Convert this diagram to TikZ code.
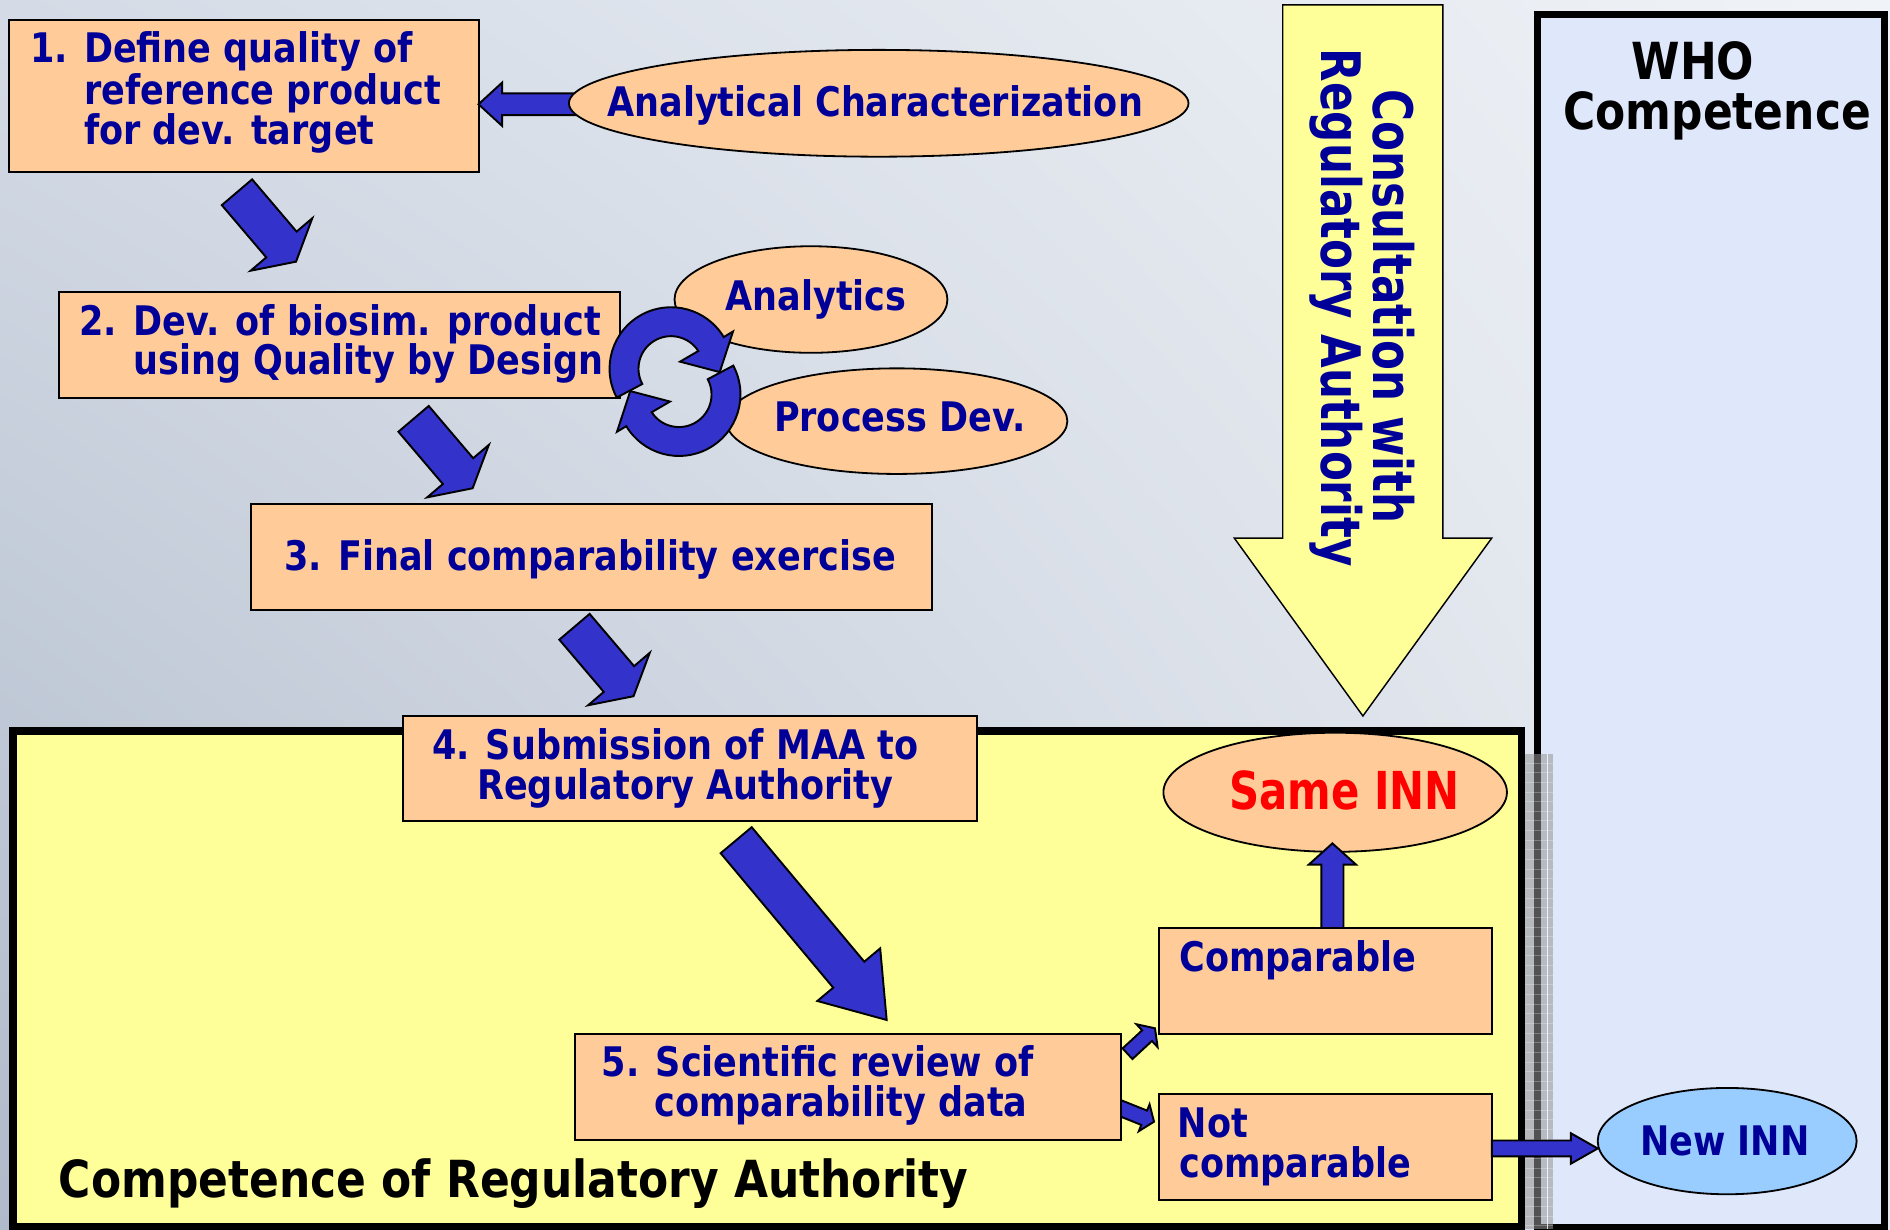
\documentclass[tikz,border=0pt]{standalone}
\usepackage{fontspec}
\newfontfamily\mainbold[FakeStretch=0.86]{DejaVu Sans Bold}
\newfontfamily\narrowbold[FakeStretch=0.80]{DejaVu Sans Bold}
\usetikzlibrary{shapes.geometric,fit,calc,shadings}
\definecolor{peach}{RGB}{255,204,153}
\definecolor{lemon}{RGB}{255,255,153}
\definecolor{navytxt}{RGB}{0,0,153}
\definecolor{arrowblue}{RGB}{51,51,204}
\definecolor{lavender}{RGB}{223,231,251}
\definecolor{skyblue}{RGB}{153,204,255}
\definecolor{bgUL}{RGB}{212,219,230}
\definecolor{bgUR}{RGB}{240,243,247}
\definecolor{bgLL}{RGB}{176,186,202}
\definecolor{bgLR}{RGB}{230,234,241}
\definecolor{bandgrey}{RGB}{150,150,150}
\newcommand\blockarrow[5]{%
  \coordinate (#1hb) at ($(#2)!#5!(#1)$);
  \draw[barrowsty] ($(#1)!#3!90:(#2)$) -- ($(#1hb)!#3!90:(#2)$) -- ($(#1hb)!#4!90:(#2)$) -- (#2)
     -- ($(#1hb)!#4!-90:(#2)$) -- ($(#1hb)!#3!-90:(#2)$) -- ($(#1)!#3!-90:(#2)$) -- cycle;}
\tikzset{
  pbox/.style={draw=black, line width=0.85pt, fill=peach, inner sep=0pt, outer sep=0pt},
  pell/.style={ellipse, draw=black, line width=0.75pt, fill=peach, inner sep=0pt, outer sep=0pt},
  barrowsty/.style={draw=black, line width=0.8pt, fill=arrowblue, line join=miter},
  txt/.style={text=navytxt, font=\mainbold\fontsize{16.9}{20}\selectfont, inner sep=0pt, anchor=base west},
  ctxt/.style={txt, anchor=base},
  bigtxt/.style={text=black, font=\mainbold\fontsize{21.2}{25}\selectfont, inner sep=0pt},
  vtxt/.style={text=navytxt, font=\narrowbold\fontsize{22.6}{26}\selectfont, inner sep=0pt, rotate=-90, anchor=base},
}
\begin{document}
\begin{tikzpicture}[x=0.5pt,y=-0.5pt]
\useasboundingbox (0,0) rectangle (1568,1020);
% background
\shade[upper left=bgUL, upper right=bgUR, lower left=bgLL, lower right=bgLR] (0,0) rectangle (1568,1020);

% competence regions
\node[draw=black, line width=3pt, fill=lemon, inner sep=0pt, fit={(10.8,606.5) (1262.5,1017.5)}] (ra) {};
\node[draw=black, line width=2.9pt, fill=lavender, inner sep=0pt, fit={(1275.8,12) (1563.3,1018)}] (who) {};
\fill[bandgrey, opacity=0.55] (1265.5,625.5) rectangle (1288,1020);
\foreach \yy in {633,641,...,1020} \draw[white, opacity=0.25, line width=0.3pt] (1265.5,\yy) -- (1288,\yy);
\draw[white, opacity=0.8, line width=0.5pt] (1284,625.5) -- (1284,1020);

% consultation arrow
\draw[draw=black, line width=0.6pt, fill=lemon] (1064.2,4) -- (1197.1,4) -- (1197.1,446.4) -- (1237.6,446.4)
   -- (1130.7,594) -- (1024,446.4) -- (1064.2,446.4) -- cycle;
\node[vtxt] (cons1) at (1139.8,254.4) {Consultation with};
\node[vtxt] (cons2) at (1096,255.3) {Regulatory Authority};

% step 1 and analytical characterization
\coordinate (a0s) at (490,86.5);
\node[pbox, fit={(7.4,16.6) (397,142.4)}] (b1) {};
\coordinate (a0e) at (b1.east |- a0s);
\blockarrow{a0s}{a0e}{4.5pt}{9pt}{9.8pt}
\node[pell, minimum width=257pt, minimum height=44.3pt] (ac) at (729,85.7) {};
\node[ctxt] (tac) at (726,97) {Analytical Characterization};
\node[txt] (t1a) at (24.6,52) {1. Define quality of};
\node[txt] (t1b) at (24.6,86.3) {\hphantom{1. }reference product};
\node[txt] (t1c) at (24.6,119.5) {\hphantom{1. }for dev. target};

% arrow 1 -> 2
\coordinate (a1s) at (196.6,159.5);
\coordinate (a1e) at (245.6,217.1);
\blockarrow{a1s}{a1e}{8.25pt}{16.8pt}{9.35pt}

% analytics / process dev
\node[pell, minimum width=113.2pt, minimum height=44.2pt] (an) at (672.8,248.5) {};
\node[pell, minimum width=141.5pt, minimum height=43.8pt] (pd) at (744,349.4) {};
\node[ctxt] (tan) at (677,257.3) {Analytics};
\node[ctxt] (tpd) at (746.5,358) {Process Dev.};

% step 2
\node[pbox, fit={(49.3,242.5) (514,330.5)}] (b2) {};
\node[txt] (t2a) at (65.5,278) {2. Dev. of biosim. product};
\node[txt] (t2b) at (65.5,311) {\hphantom{2. }using Quality by Design};

% circular arrows
\begin{scope}[shift={(560,316.6)}, x=0.5pt, y=0.5pt]
  \foreach \rr in {0,180}{
    \begin{scope}[rotate=\rr, shift={(-3.3,10.7)}]
      \draw[barrowsty] (208:51) arc[start angle=208, end angle=31, radius=51] -- (31:60) -- (-4:40.5)
        -- (38:9.5) -- (33:27) arc[start angle=33, end angle=208, radius=27] -- cycle;
    \end{scope}}
\end{scope}

% arrow 2 -> 3
\coordinate (a2s) at (343.1,347.5);
\coordinate (a2e) at (392.1,405.1);
\blockarrow{a2s}{a2e}{8.25pt}{16.8pt}{9.35pt}

% step 3
\node[pbox, fit={(208,418.2) (773,505.9)}] (b3) {};
\node[txt] (t3) at (235.5,473) {3. Final comparability exercise};

% arrow 3 -> 4
\coordinate (a3s) at (476.6,520);
\coordinate (a3e) at (525.6,577.6);
\blockarrow{a3s}{a3e}{8.25pt}{16.8pt}{9.35pt}

% step 4
\node[pbox, fit={(334.5,593.9) (810.6,681.5)}] (b4) {};
\node[txt] (t4a) at (358,629.7) {4. Submission of MAA to};
\node[txt] (t4b) at (395.5,663.3) {Regulatory Authority};

% arrow 4 -> 5
\coordinate (a4s) at (610.75,697.05);
\coordinate (a4e) at (735.6,846.2);
\blockarrow{a4s}{a4e}{8.4pt}{17pt}{24.5pt}

% small arrows from step 5
\coordinate (a5s) at (935.4,874.2);
\coordinate (a5e) at (958.2,853.1);
\blockarrow{a5s}{a5e}{3pt}{6.45pt}{4.5pt}
\coordinate (a6s) at (922,916.4);
\coordinate (a6e) at (957.4,930.6);
\blockarrow{a6s}{a6e}{3.2pt}{6pt}{4.4pt}

% step 5
\node[pbox, fit={(477.3,857.8) (929.9,946)}] (b5) {};
\node[txt] (t5a) at (499,892.8) {5. Scientific review of};
\node[txt] (t5b) at (542.5,926.4) {comparability data};

% outcomes
\node[pbox, fit={(961.5,769.9) (1237.7,857.8)}] (cmp) {};
\node[pbox, fit={(961.5,907.6) (1237.7,995.8)}] (ncmp) {};
\node[txt] (tcmp) at (978,806) {Comparable};
\node[txt] (tn1) at (976.8,944) {Not};
\node[txt] (tn2) at (978,976.8) {comparable};

\node[pell, minimum width=142.5pt, minimum height=49.4pt] (same) at (1107.7,657.3) {};
\node[text=red, font=\narrowbold\fontsize{21.7}{25}\selectfont, inner sep=0pt, anchor=base] (tsame) at (1115.5,671.7) {Same INN};
\coordinate (a7e) at (1105.4,699.7);
\coordinate (a7s) at (cmp.north -| a7e);
\blockarrow{a7s}{a7e}{4.6pt}{9.8pt}{8.8pt}

\node[ellipse, draw=black, line width=0.75pt, fill=skyblue, inner sep=0pt, outer sep=0pt, minimum width=107.4pt, minimum height=44.1pt] (new) at (1432.9,946.7) {};
\node[ctxt] (tnew) at (1431,958.6) {New INN};
\coordinate (a8s) at (ncmp.east |- 0,952.8);
\coordinate (a8e) at (new.west |- 0,952.8);
\blockarrow{a8s}{a8e}{3.3pt}{6.3pt}{11.1pt}

% labels of regions
\node[bigtxt, anchor=base west] (tra) at (48.5,993.5) {Competence of Regulatory Authority};
\node[bigtxt, anchor=base] (twho1) at (1404.5,65.8) {WHO};
\node[bigtxt, anchor=base] (twho2) at (1424.6,107.8) {Competence};
\end{tikzpicture}
\end{document}
